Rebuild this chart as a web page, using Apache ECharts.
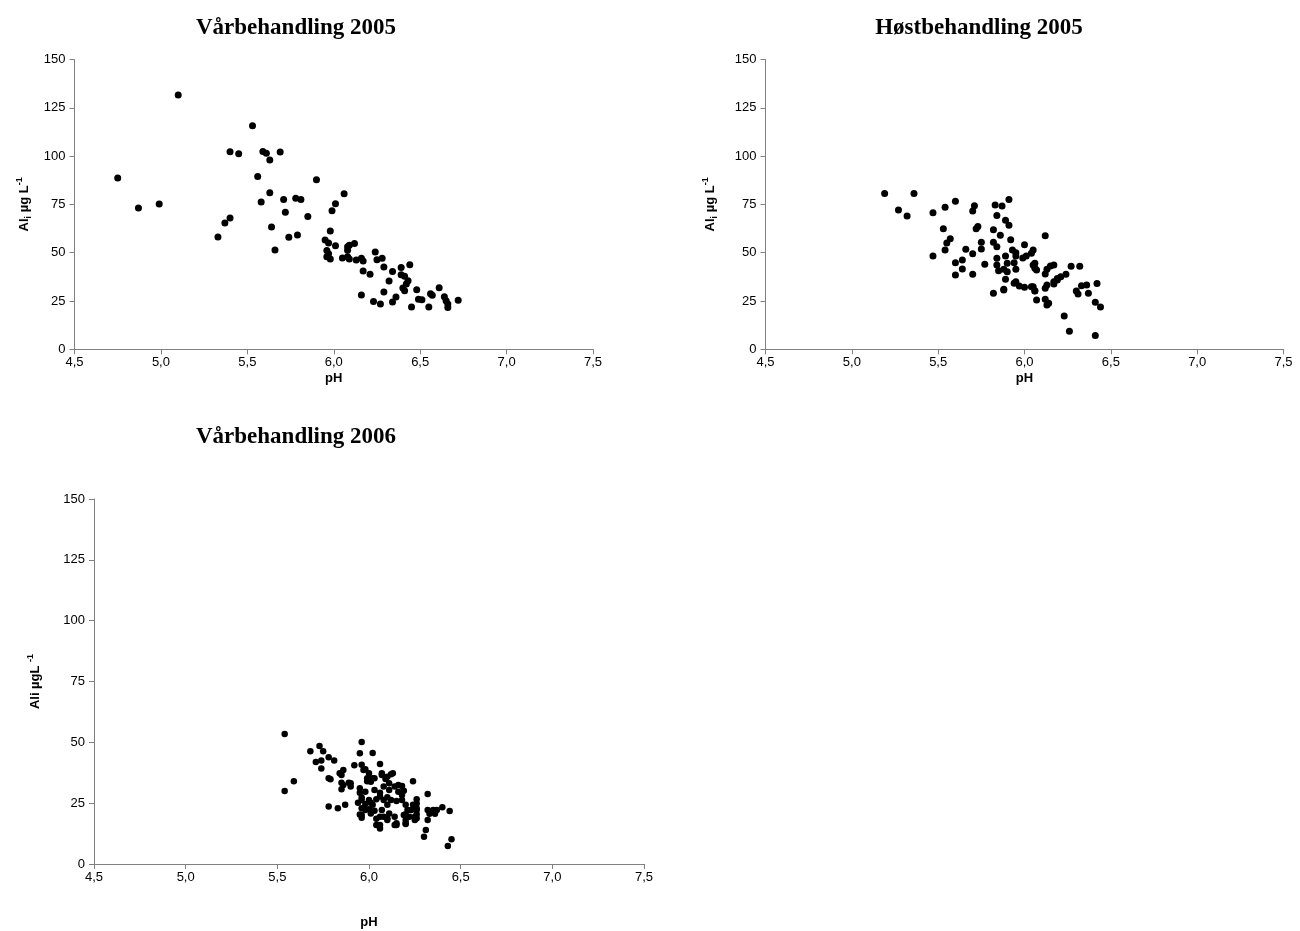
<!DOCTYPE html>
<html>
<head>
<meta charset="utf-8">
<script src="https://cdn.jsdelivr.net/npm/echarts@6/dist/echarts.min.js"></script>
<style>
html,body{margin:0;padding:0;background:#fff;}
#c{width:1300px;height:931px;}
</style>
</head>
<body>
<div id="c"></div>
<script>
// Titles and tick labels
const titles = ['Vårbehandling 2005', 'Høstbehandling 2005', 'Vårbehandling 2006'];
const xTicks = [4.5, 5.0, 5.5, 6.0, 6.5, 7.0, 7.5];
const yTicks = [0, 25, 50, 75, 100, 125, 150];

// Vårbehandling 2005: [pH, Ali µg/L]
const spring2005 = [
  [4.75,88.6],[4.87,73.1],[4.99,75.2],[5.10,131.6],[5.53,115.7],[5.40,102.2],[5.45,101.2],
  [5.59,102.4],[5.61,101.5],[5.69,102.1],[5.63,98.0],[5.56,89.5],[5.90,87.8],[5.63,81.0],
  [5.58,76.2],[5.71,77.5],[5.78,78.2],[5.81,77.6],[5.72,71.0],[5.85,68.7],[6.01,75.4],
  [5.99,71.7],[6.06,80.5],[5.40,68.0],[5.37,65.4],[5.33,58.1],[5.64,63.3],[5.74,58.0],
  [5.79,59.2],[5.66,51.4],[5.98,61.2],[5.95,56.6],[5.97,55.0],[6.01,53.6],[5.96,51.2],
  [5.97,49.4],[5.96,47.9],[5.98,46.7],[6.05,47.3],[6.08,53.1],[6.08,47.9],[6.09,53.8],
  [6.12,54.8],[6.08,51.3],[6.09,46.7],[6.13,46.2],[6.16,47.1],[6.17,45.7],[6.24,50.3],
  [6.25,46.4],[6.28,47.1],[6.29,42.6],[6.17,40.5],[6.21,38.8],[6.34,40.3],[6.39,42.4],
  [6.44,43.8],[6.39,38.6],[6.41,37.8],[6.32,35.3],[6.43,35.5],[6.42,33.8],[6.40,31.7],
  [6.41,30.3],[6.29,29.7],[6.48,30.8],[6.61,31.8],[6.56,28.8],[6.57,28.0],[6.49,25.9],
  [6.51,25.7],[6.64,27.2],[6.65,25.1],[6.66,23.4],[6.66,21.7],[6.72,25.4],[6.16,28.1],
  [6.23,24.8],[6.27,23.4],[6.36,27.1],[6.34,24.5],[6.45,21.9],[6.55,21.9]
];

// Høstbehandling 2005
const autumn2005 = [
  [5.19,80.7],[5.36,80.7],[5.27,72.1],[5.32,69.0],[5.47,70.7],[5.54,73.5],[5.60,76.6],
  [5.71,74.3],[5.70,71.6],[5.83,74.7],[5.87,74.2],[5.91,77.6],[5.84,69.2],[5.89,66.8],
  [5.91,64.2],[5.53,62.4],[5.73,63.5],[5.72,62.4],[5.82,61.9],[5.86,59.0],[5.57,57.2],
  [5.55,55.0],[5.54,51.4],[5.47,48.3],[5.66,51.8],[5.70,49.5],[5.75,55.4],[5.75,51.9],
  [5.82,55.4],[5.84,53.1],[5.92,56.7],[6.00,54.1],[6.05,51.4],[6.12,58.8],[5.60,44.8],
  [5.64,46.2],[5.60,38.5],[5.64,41.6],[5.70,38.8],[5.77,44.0],[5.84,47.1],[5.84,43.6],
  [5.85,40.7],[5.89,48.3],[5.90,44.5],[5.88,41.4],[5.90,40.2],[5.93,51.4],[5.95,48.3],
  [5.94,44.8],[5.95,41.4],[5.89,36.2],[5.95,35.0],[5.97,32.8],[5.82,29.0],[5.88,30.7],
  [6.00,32.1],[6.05,32.4],[5.99,47.3],[6.01,48.3],[6.05,43.6],[6.06,41.9],[6.06,30.2],
  [6.12,39.0],[6.13,33.3],[6.12,31.6],[6.07,25.5],[6.12,25.9],[6.14,23.8],[6.15,43.1],
  [6.17,43.6],[6.17,35.0],[6.19,36.7],[6.04,49.7],[5.95,50.0],[6.06,44.5],[6.07,41.0],
  [6.13,41.4],[6.27,43.0],[6.32,43.0],[6.24,38.8],[6.21,37.6],[6.19,35.9],[6.17,33.8],
  [5.88,31.1],[5.94,34.2],[6.04,32.4],[6.06,30.3],[6.13,22.9],[6.33,32.9],[6.36,33.3],
  [6.42,34.0],[6.30,30.2],[6.31,28.6],[6.37,29.0],[6.41,24.3],[6.44,21.9],[6.23,17.2],
  [6.26,9.3],[6.41,7.2]
];

// Vårbehandling 2006
const spring2006 = [
  [5.54,53.4],[5.54,30.0],[5.59,34.0],[5.68,46.3],[5.73,48.5],[5.75,46.3],[5.71,41.9],
  [5.74,42.5],[5.74,39.2],[5.78,43.9],[5.81,42.5],[5.78,35.2],[5.79,34.8],[5.84,37.3],
  [5.86,38.6],[5.85,33.4],[5.89,33.4],[5.85,30.7],[5.90,31.8],[5.78,23.6],[5.83,22.9],
  [5.87,24.3],[5.92,40.6],[5.96,40.8],[5.96,50.1],[5.95,45.5],[6.02,45.6],[6.06,41.1],
  [5.98,38.9],[6.00,37.3],[6.02,35.2],[5.99,34.0],[6.07,37.3],[6.10,35.9],[6.13,37.3],
  [5.95,31.1],[5.95,29.3],[5.96,26.3],[5.94,25.2],[5.98,29.7],[6.03,30.4],[6.06,29.3],
  [6.04,26.6],[6.01,25.2],[5.98,24.7],[6.08,31.8],[6.11,30.4],[6.14,31.8],[6.10,27.4],
  [6.12,26.3],[5.96,22.9],[6.00,22.5],[6.03,21.9],[5.95,20.3],[5.96,19.0],[6.04,18.6],
  [6.06,16.0],[6.08,19.4],[6.10,18.1],[6.14,19.4],[6.14,16.0],[6.15,16.7],[6.18,32.1],
  [6.19,30.1],[6.24,34.0],[6.18,26.3],[6.20,24.3],[6.26,26.6],[6.26,24.9],[6.23,22.2],
  [6.26,22.2],[6.19,20.1],[6.22,19.4],[6.25,19.4],[6.20,18.1],[6.20,16.4],[6.26,18.8],
  [6.32,28.8],[6.32,22.2],[6.33,20.6],[6.32,18.1],[6.31,14.0],[6.30,11.2],[6.35,22.2],
  [6.37,22.2],[6.40,23.3],[6.36,20.6],[6.44,21.8],[6.45,10.2],[6.43,7.4],
  [5.85,36.6],[5.86,32.5],[5.90,33.2],[5.97,38.6],[5.99,35.2],[6.01,33.8],[6.03,35.2],
  [6.07,36.6],[6.09,34.9],[6.12,36.9],[6.11,33.2],[6.16,32.5],[6.16,29.7],[6.18,28.4],
  [5.96,27.3],[6.00,26.3],[6.02,24.3],[5.98,22.2],[6.06,27.7],[6.08,26.3],[6.10,24.3],
  [6.07,22.2],[6.11,20.8],[6.15,25.9],[6.24,24.3],[6.21,22.2],[6.26,22.9],[6.26,20.4],
  [6.20,20.4],[6.06,19.4],[6.10,18.8],[6.15,16.0],[6.20,16.7],[6.25,18.1],[6.04,16.0],
  [6.06,14.6],[5.96,20.1],[6.01,20.8]
];

const AX = '#808080';
const FONT = 'Liberation Sans';
const grids = [
  {left: 74.5, top: 59.5, width: 518.5, height: 289.8},
  {left: 765.5, top: 59.5, width: 518, height: 289.8},
  {left: 94, top: 499, width: 550, height: 365}
];
const yNames = [
  '{b|Al}{sub|i}{b| µg L}{sup|-1}',
  '{b|Al}{sub|i}{b| µg L}{sup|-1}',
  '{b|Ali µgL }{sup|-1}'
];
const yGaps = [41, 46, 50];
const xGaps = [23, 23, 52];
const rich = {
  b: {fontSize: 13, fontWeight: 'bold', fontFamily: FONT, color: '#000', lineHeight: 18, verticalAlign: 'middle'},
  sub: {fontSize: 9, fontWeight: 'bold', fontFamily: FONT, color: '#000', lineHeight: 9, verticalAlign: 'bottom'},
  sup: {fontSize: 9, fontWeight: 'bold', fontFamily: FONT, color: '#000', lineHeight: 9, verticalAlign: 'top'}
};
const fmtX = v => v.toFixed(1).replace('.', ',');

const xAxis = grids.map((g, i) => ({
  type: 'value', gridIndex: i, min: xTicks[0], max: xTicks[xTicks.length - 1], interval: 0.5,
  name: 'pH', nameLocation: 'middle', nameGap: xGaps[i],
  nameTextStyle: {fontFamily: FONT, fontWeight: 'bold', fontSize: 13, color: '#000'},
  axisLine: {show: true, onZero: false, lineStyle: {color: AX, width: 1}},
  axisTick: {show: true, length: 5, lineStyle: {color: AX}},
  axisLabel: {formatter: fmtX, fontFamily: FONT, fontSize: 13, color: '#000', margin: 7},
  splitLine: {show: false}
}));
const yAxis = grids.map((g, i) => ({
  type: 'value', gridIndex: i, min: yTicks[0], max: yTicks[yTicks.length - 1], interval: 25,
  name: yNames[i], nameLocation: 'middle', nameGap: yGaps[i], nameRotate: 90,
  nameTextStyle: {rich: rich},
  axisLine: {show: true, lineStyle: {color: AX, width: 1}},
  axisTick: {show: true, length: 5, lineStyle: {color: AX}},
  axisLabel: {fontFamily: FONT, fontSize: 13, color: '#000', margin: 9},
  splitLine: {show: false}
}));
const datasets = [spring2005, autumn2005, spring2006];
const sizes = [7, 7, 6.5];
const series = datasets.map((d, i) => ({
  type: 'scatter', xAxisIndex: i, yAxisIndex: i, data: d,
  symbol: 'circle', symbolSize: sizes[i], itemStyle: {color: '#000', opacity: 1},
  animation: false
}));
const titlePos = [[296, 28], [979, 28], [296, 437]];
const graphic = titles.map((t, i) => ({
  type: 'text', x: titlePos[i][0], y: titlePos[i][1],
  style: {text: t, fontFamily: 'Liberation Serif', fontWeight: 'bold', fontSize: 23,
          fill: '#000', textAlign: 'center', textVerticalAlign: 'middle'}
}));

const chart = echarts.init(document.getElementById('c'), null, {renderer: 'canvas'});
chart.setOption({
  animation: false,
  backgroundColor: '#fff',
  grid: grids,
  xAxis: xAxis,
  yAxis: yAxis,
  series: series,
  graphic: graphic
});
</script>
</body>
</html>
